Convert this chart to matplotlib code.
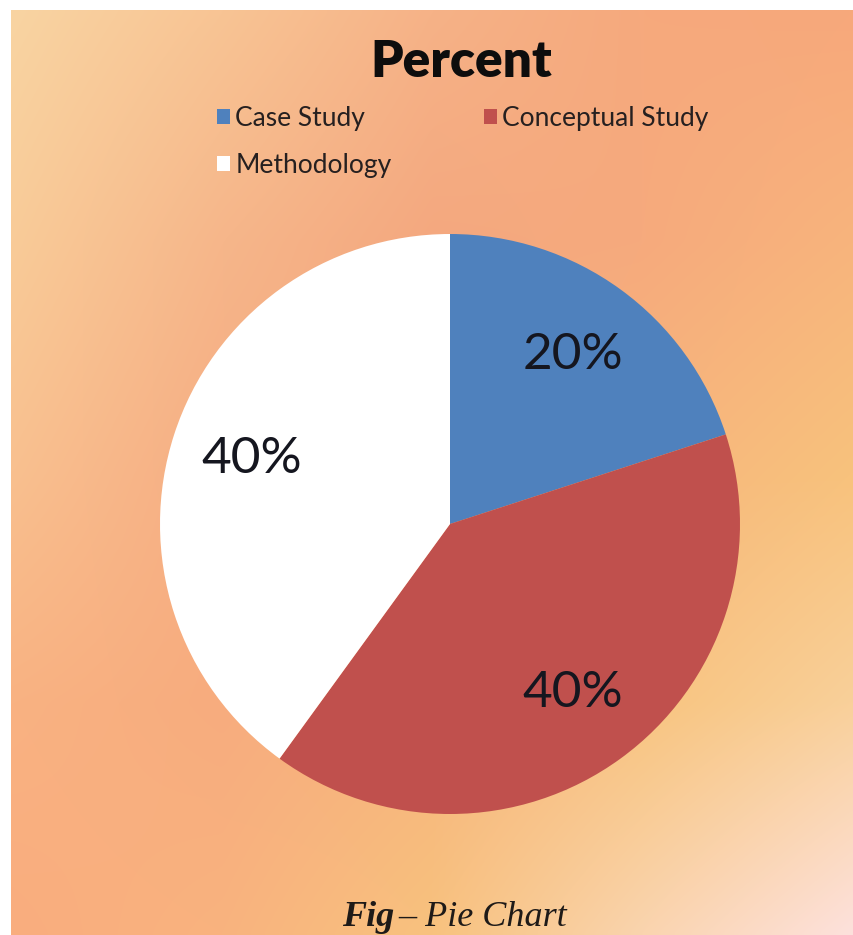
import numpy as np
import matplotlib
matplotlib.use("Agg")
import matplotlib.pyplot as plt
from matplotlib.colors import to_rgb

# Chart data
categories = ["Case Study", "Conceptual Study", "Methodology"]
percent = [20, 40, 40]
colors = ["#4F81BD", "#C0504D", "#FFFFFF"]
title = "Percent"

W, H = 854, 935
fig = plt.figure(figsize=(W / 100, H / 100), dpi=100)
fig.patch.set_facecolor("white")

# Warm gradient backdrop
bg_grid = [
    ["#F9D4A2", "#F8C494", "#F6B287", "#F6A97D", "#F7A87B"],
    ["#F9CB98", "#F6B68A", "#F4A87F", "#F6AA7D", "#F8B47D"],
    ["#F9C08F", "#F6AD83", "#F6AA7E", "#F7B67C", "#F8C27C"],
    ["#F9B282", "#F7AC7E", "#F7B47D", "#F8C47F", "#F9D09A"],
    ["#FAAD7E", "#F9B37F", "#F8C27E", "#FAD4AE", "#FDE1DC"],
]
grid = np.array([[to_rgb(c) for c in row] for row in bg_grid])
ny, nx = 200, 200
yy = np.linspace(0, grid.shape[0] - 1, ny)
xx = np.linspace(0, grid.shape[1] - 1, nx)
img = np.zeros((ny, nx, 3))
for ch in range(3):
    tmp = np.array([np.interp(xx, np.arange(grid.shape[1]), grid[i, :, ch]) for i in range(grid.shape[0])])
    img[:, :, ch] = np.array([np.interp(yy, np.arange(grid.shape[0]), tmp[:, j]) for j in range(nx)]).T

bg_left, bg_top = 11, 10
bg = fig.add_axes([bg_left / W, 0, 1 - bg_left / W, 1 - bg_top / H])
bg.imshow(img, aspect="auto", interpolation="bicubic", extent=[0, 1, 0, 1])
bg.set_axis_off()

# Pie
cx, cy, r = 450, 524, 290
ax = fig.add_axes([(cx - r) / W, (H - cy - r) / H, 2 * r / W, 2 * r / H])
wedges, texts, autotexts = ax.pie(
    percent, colors=colors, startangle=90, counterclock=False,
    autopct="%d%%", pctdistance=0.72, radius=1,
    wedgeprops=dict(linewidth=0),
    textprops=dict(fontsize=37, color="#15161f", family=["Lato", "DejaVu Sans"]),
)
ax.set_xlim(-1, 1)
ax.set_ylim(-1, 1)
ax.set_aspect("equal")
ax.set_axis_off()

# Title
fig.text(461 / W, 1 - 62 / H, title, ha="center", va="center", fontsize=37,
         fontweight="heavy", family=["Lato", "DejaVu Sans"], color="#0d0d0d")

# Legend (column-wise fill: Case Study / Methodology, then Conceptual Study)
order = [0, 2, 1]
leg = fig.legend([wedges[i] for i in order], [categories[i] for i in order],
                 loc="upper left", bbox_to_anchor=(193 / W, 1 - 82 / H),
                 ncol=2, frameon=False, handlelength=0.5, handleheight=0.5,
                 handletextpad=0.2, columnspacing=3.5, labelspacing=0.85,
                 prop=dict(family=["Lato", "DejaVu Sans"], size=19))
for t in leg.get_texts():
    t.set_color("#262020")

# Caption
fig.text(394 / W, 1 - 926 / H, "Fig", ha="right", va="baseline", fontsize=26,
         family="Liberation Serif", style="italic", fontweight="bold", color="#1e1a18")
fig.text(398 / W, 1 - 926 / H, "\u2013 Pie Chart", ha="left", va="baseline", fontsize=26,
         family="Liberation Serif", style="italic", color="#1e1a18")

fig.savefig("out.png", dpi=100, facecolor=fig.get_facecolor())
